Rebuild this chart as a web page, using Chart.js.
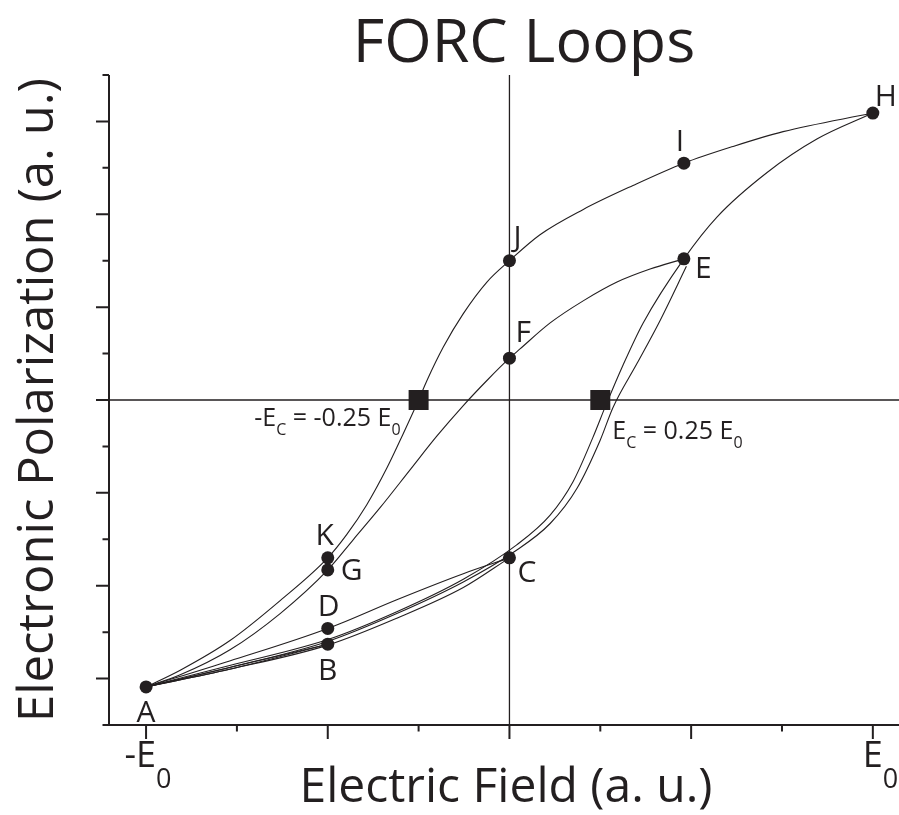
<!DOCTYPE html>
<html>
<head>
<meta charset="utf-8">
<title>FORC Loops</title>
<script src="https://cdn.jsdelivr.net/npm/chart.js@4.4.1/dist/chart.umd.min.js"></script>
<style>
  html, body { margin: 0; padding: 0; background: #fff; }
  canvas { display: block; }
</style>
</head>
<body>
<canvas id="forc-chart" width="899" height="815"></canvas>
<script>
// field in units of E0, polarization in arbitrary units
const riseToB = [[-1, -3.09], [-0.77, -2.88], [-0.5, -2.63]];
const fallFromB = [[-0.5, -2.63], [-0.77, -2.90], [-1, -3.09]];
const riseToC = [[-1, -3.09], [-0.77, -2.90], [-0.5, -2.64], [-0.31, -2.35], [-0.127, -2.02], [0, -1.70]];
const fallFromC = [[0, -1.70], [-0.127, -1.87], [-0.31, -2.15], [-0.5, -2.46], [-0.77, -2.81], [-1, -3.09]];
const riseToE = [[-1, -3.09], [-0.77, -2.88], [-0.5, -2.60], [-0.31, -2.30], [-0.127, -1.96], [0.011, -1.64],
  [0.112, -1.33], [0.186, -0.95], [0.25, -0.43], [0.285, -0.08], [0.352, 0.40], [0.415, 0.86], [0.487, 1.44]];
const fallFromE = [[0.48, 1.52], [0.387, 1.41], [0.296, 1.27], [0.204, 1.07], [0.112, 0.83], [0.029, 0.55],
  [0, 0.45], [-0.062, 0.21], [-0.127, -0.06], [-0.2, -0.39], [-0.273, -0.75], [-0.356, -1.16], [-0.429, -1.50],
  [-0.5, -1.83], [-0.631, -2.30], [-0.769, -2.69], [-0.906, -2.96], [-1, -3.09]];
const riseToH = [[-1, -3.09], [-0.77, -2.86], [-0.5, -2.58], [-0.31, -2.28], [-0.127, -1.93], [0.02, -1.56],
  [0.112, -1.24], [0.175, -0.88], [0.23, -0.40], [0.266, -0.05], [0.313, 0.38], [0.368, 0.83], [0.48, 1.52],
  [0.571, 1.97], [0.709, 2.45], [0.846, 2.81], [1, 3.09]];
const fallFromH = [[1, 3.09], [0.753, 2.89], [0.615, 2.73], [0.48, 2.55], [0.34, 2.31], [0.202, 2.05],
  [0.084, 1.78], [0, 1.50], [-0.062, 1.27], [-0.127, 0.93], [-0.182, 0.57], [-0.227, 0.21], [-0.25, 0],
  [-0.292, -0.36], [-0.337, -0.73], [-0.393, -1.13], [-0.448, -1.45], [-0.5, -1.70], [-0.631, -2.16],
  [-0.769, -2.59], [-0.906, -2.91], [-1, -3.09]];

const markerNames = ['A', 'B', 'C', 'D', 'E', 'F', 'G', 'H', 'I', 'J', 'K'];
const markerX = [-1, -0.5, 0, -0.5, 0.48, 0, -0.5, 1, 0.48, 0, -0.5];
const markerY = [-3.09, -2.63, -1.70, -2.46, 1.52, 0.45, -1.83, 3.09, 2.55, 1.50, -1.70];

const coerciveX = [-0.25, 0.25];
const coerciveY = [0, 0];
const coerciveLabels = ['-E_C = -0.25 E_0', 'E_C = 0.25 E_0'];

const xTicks = [-1, -0.75, -0.5, -0.25, 0, 0.25, 0.5, 0.75, 1];
const xTickLabels = ['-E_0', '', '', '', '', '', '', '', 'E_0'];
const yTicks = [-3.5, -3, -2.5, -2, -1.5, -1, -0.5, 0, 0.5, 1, 1.5, 2, 2.5, 3, 3.5];

const ink = '#231f20';
const family = '"Open Sans", "Noto Sans", sans-serif';

// letter placement around each marker: dx, dy to the baseline, alignment
const letterPos = {
  A: [0, 35, 'center'], B: [0, 36, 'center'], C: [8, 24, 'left'], D: [1, -12, 'center'],
  E: [11, 19, 'left'], F: [6, -16, 'left'], G: [13, 10, 'left'], H: [2, -7, 'left'],
  I: [-4, -12, 'center'], J: [4, -14, 'left'], K: [-3, -13, 'center']
};

const toXY = pts => pts.map(([x, y]) => ({ x, y }));

function curve(pts) {
  return {
    data: toXY(pts),
    showLine: true,
    borderColor: ink,
    borderWidth: 1.1,
    pointRadius: 0,
    fill: false,
    cubicInterpolationMode: 'monotone'
  };
}

// text with "_x" subscripts
function richParts(str) {
  return str.split(/_(.)/).map((t, i) => ({ text: t, sub: i % 2 === 1 }));
}

function richWidth(ctx, str, size, subSize) {
  let w = 0;
  for (const p of richParts(str)) {
    ctx.font = `${p.sub ? subSize : size}px ${family}`;
    w += ctx.measureText(p.text).width;
  }
  return w;
}

function drawRich(ctx, str, x, y, size, subSize, subDrop) {
  ctx.textAlign = 'left';
  ctx.textBaseline = 'alphabetic';
  for (const p of richParts(str)) {
    ctx.font = `${p.sub ? subSize : size}px ${family}`;
    ctx.fillText(p.text, x, p.sub ? y + subDrop : y);
    x += ctx.measureText(p.text).width;
  }
}

const framePlugin = {
  id: 'frame',
  beforeDatasetsDraw(chart) {
    const { ctx, chartArea: a, scales: { x, y } } = chart;
    const x0 = x.getPixelForValue(0);
    const y0 = y.getPixelForValue(0);
    ctx.save();
    ctx.strokeStyle = ink;
    ctx.lineWidth = 1.3;
    ctx.beginPath();
    ctx.moveTo(a.left, y0);
    ctx.lineTo(a.right, y0);
    ctx.moveTo(x0, a.top);
    ctx.lineTo(x0, a.bottom);
    ctx.stroke();

    // axes with alternating long and short ticks
    ctx.lineWidth = 2;
    ctx.beginPath();
    ctx.moveTo(a.left, a.top);
    ctx.lineTo(a.left, a.bottom);
    ctx.moveTo(a.left, a.bottom);
    ctx.lineTo(a.right, a.bottom);
    yTicks.forEach(v => {
      const py = y.getPixelForValue(v);
      const len = Number.isInteger(v) ? 13 : 6.5;
      ctx.moveTo(a.left - len, py);
      ctx.lineTo(a.left, py);
    });
    xTicks.forEach((v, i) => {
      const px = x.getPixelForValue(v);
      const len = i % 2 === 0 ? 14 : 6.5;
      ctx.moveTo(px, a.bottom);
      ctx.lineTo(px, a.bottom + len);
    });
    ctx.stroke();
    ctx.restore();
  },
  afterDraw(chart) {
    const { ctx, scales: { x, y } } = chart;
    ctx.save();
    ctx.fillStyle = ink;

    // tick labels, the E sits centred on its tick
    xTicks.forEach((v, i) => {
      const label = xTickLabels[i];
      if (!label) return;
      const px = x.getPixelForValue(v);
      const main = label.split('_')[0];
      ctx.font = `36px ${family}`;
      const start = px + ctx.measureText('E').width / 2 - ctx.measureText(main).width;
      drawRich(ctx, label, start, 767, 36, 27, 21);
    });

    // coercive field notes
    const leftSq = { x: x.getPixelForValue(coerciveX[0]), y: y.getPixelForValue(coerciveY[0]) };
    const rightSq = { x: x.getPixelForValue(coerciveX[1]), y: y.getPixelForValue(coerciveY[1]) };
    const wl = richWidth(ctx, coerciveLabels[0], 25, 16);
    drawRich(ctx, coerciveLabels[0], leftSq.x - 18 - wl, leftSq.y + 26, 25, 16, 9);
    drawRich(ctx, coerciveLabels[1], rightSq.x + 12, rightSq.y + 39, 25, 16, 9);

    // point letters
    const meta = chart.getDatasetMeta(0);
    ctx.font = `30px ${family}`;
    ctx.textBaseline = 'alphabetic';
    meta.data.forEach((pt, i) => {
      const [dx, dy, align] = letterPos[markerNames[i]];
      ctx.textAlign = align;
      ctx.fillText(markerNames[i], pt.x + dx, pt.y + dy);
    });

    // titles
    ctx.textAlign = 'center';
    ctx.font = `61px ${family}`;
    ctx.fillText('FORC Loops', 524, 62);
    ctx.font = `48px ${family}`;
    ctx.fillText('Electric Field (a. u.)', 506, 802);
    ctx.font = `49px ${family}`;
    ctx.translate(53, 400);
    ctx.rotate(-Math.PI / 2);
    ctx.fillText('Electronic Polarization (a. u.)', 0, 0);
    ctx.restore();
  }
};

new Chart(document.getElementById('forc-chart'), {
  type: 'scatter',
  data: {
    datasets: [
      {
        data: markerX.map((v, i) => ({ x: v, y: markerY[i] })),
        pointStyle: 'circle',
        pointRadius: 6.5,
        backgroundColor: ink,
        borderWidth: 0
      },
      {
        data: coerciveX.map((v, i) => ({ x: v, y: coerciveY[i] })),
        pointStyle: 'rect',
        pointRadius: 14.14,
        backgroundColor: ink,
        borderWidth: 0
      },
      curve(riseToB), curve(fallFromB),
      curve(riseToC), curve(fallFromC),
      curve(riseToE), curve(fallFromE),
      curve(riseToH), curve(fallFromH)
    ]
  },
  options: {
    responsive: false,
    animation: false,
    events: [],
    layout: { autoPadding: false, padding: { left: 109, right: 0, top: 75, bottom: 90 } },
    scales: {
      x: { type: 'linear', min: -1.102, max: 1.072, display: false },
      y: { type: 'linear', min: -3.5, max: 3.5, display: false }
    },
    plugins: {
      legend: { display: false },
      tooltip: { enabled: false }
    }
  },
  plugins: [framePlugin]
});
</script>
</body>
</html>
